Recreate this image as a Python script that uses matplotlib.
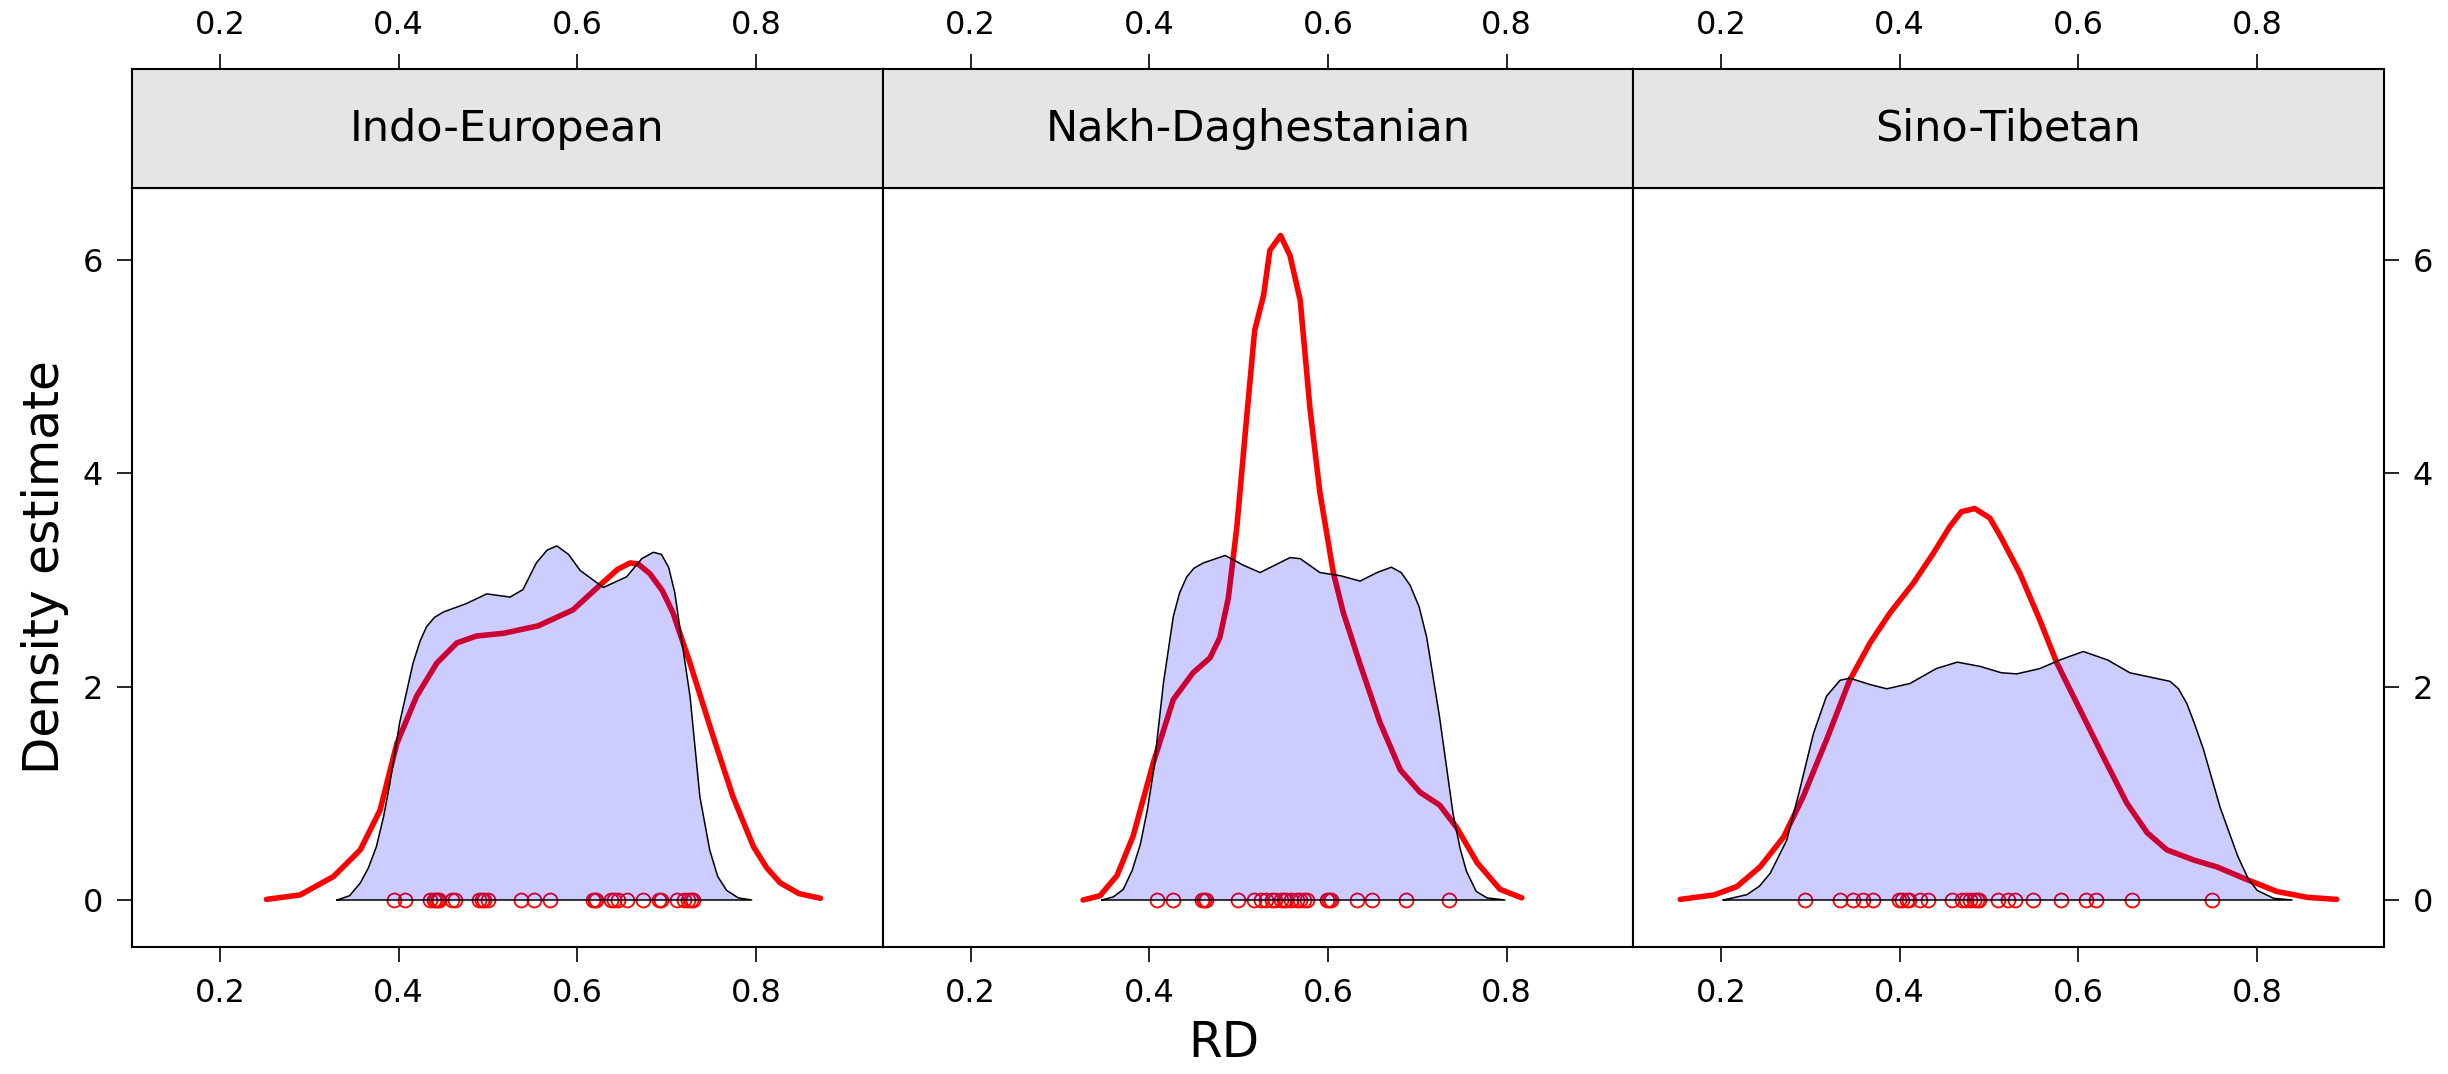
import numpy as np
import matplotlib
matplotlib.use("Agg")
import matplotlib.pyplot as plt

plt.rcParams["font.family"] = ["DejaVu Sans"]

# panel names
families = ["Indo-European", "Nakh-Daghestanian", "Sino-Tibetan"]

# rug points (RD values)
rd_ie = [0.395, 0.4075, 0.4355, 0.4394, 0.4414, 0.4434, 0.4454, 0.4594, 0.4634,
         0.4894, 0.4934, 0.4954, 0.4994, 0.5373, 0.5513, 0.5693, 0.6173, 0.6193,
         0.6213, 0.6373, 0.6413, 0.6453, 0.6553, 0.6733, 0.6912, 0.6932, 0.7112,
         0.7192, 0.7232, 0.7272, 0.7292]
rd_nd = [0.409, 0.427, 0.459, 0.461, 0.463, 0.499, 0.517, 0.525, 0.531, 0.537,
         0.541, 0.547, 0.551, 0.553, 0.559, 0.565, 0.569, 0.573, 0.577, 0.599,
         0.601, 0.603, 0.633, 0.649, 0.687, 0.735]
rd_st = [0.294, 0.333, 0.348, 0.359, 0.370, 0.399, 0.403, 0.408, 0.410, 0.423,
         0.432, 0.459, 0.470, 0.474, 0.479, 0.483, 0.487, 0.489, 0.510, 0.521,
         0.529, 0.549, 0.580, 0.609, 0.620, 0.660, 0.749]

# red density curves (x, density)
red_x_ie = [0.252, 0.2895, 0.327, 0.357, 0.379, 0.398, 0.420, 0.4425, 0.465, 0.487,
            0.517, 0.556, 0.595, 0.625, 0.645, 0.659, 0.668, 0.681, 0.695, 0.707,
            0.726, 0.752, 0.774, 0.797, 0.812, 0.827, 0.848, 0.872]
red_y_ie = [0.006, 0.047, 0.22, 0.47, 0.84, 1.47, 1.91, 2.22, 2.41, 2.475,
            2.50, 2.57, 2.72, 2.95, 3.10, 3.16, 3.15, 3.06, 2.90, 2.69,
            2.22, 1.53, 0.97, 0.50, 0.30, 0.16, 0.06, 0.016]
red_x_nd = [0.326, 0.345, 0.364, 0.382, 0.405, 0.427, 0.449, 0.468, 0.479, 0.4885,
            0.498, 0.509, 0.518, 0.528, 0.535, 0.547, 0.5576, 0.569, 0.580, 0.591,
            0.606, 0.617, 0.636, 0.658, 0.681, 0.703, 0.725, 0.744, 0.767, 0.7926,
            0.817]
red_y_nd = [0.0, 0.04, 0.23, 0.60, 1.30, 1.88, 2.13, 2.27, 2.46, 2.83,
            3.49, 4.52, 5.34, 5.67, 6.09, 6.23, 6.04, 5.62, 4.60, 3.82,
            3.07, 2.70, 2.21, 1.67, 1.22, 1.01, 0.89, 0.68, 0.35, 0.10,
            0.02]
red_x_st = [0.1544, 0.192, 0.2176, 0.2437, 0.270, 0.292, 0.318, 0.344, 0.3668, 0.389,
            0.4152, 0.4376, 0.456, 0.469, 0.484, 0.501, 0.514, 0.5346, 0.557, 0.576,
            0.602, 0.628, 0.654, 0.677, 0.699, 0.729, 0.755, 0.789, 0.822, 0.856,
            0.889]
red_y_st = [0.006, 0.047, 0.125, 0.31, 0.59, 0.97, 1.50, 2.06, 2.41, 2.69,
            2.97, 3.25, 3.50, 3.64, 3.67, 3.58, 3.39, 3.06, 2.62, 2.22,
            1.78, 1.34, 0.91, 0.63, 0.47, 0.375, 0.31, 0.19, 0.08, 0.025,
            0.006]

# shaded reference densities (x, density)
blue_x_ie = [0.331, 0.345, 0.357, 0.366, 0.375, 0.383, 0.390, 0.401, 0.416, 0.424,
             0.431, 0.440, 0.450, 0.476, 0.4985, 0.5246, 0.539, 0.554, 0.566, 0.577,
             0.590, 0.603, 0.629, 0.655, 0.672, 0.685, 0.694, 0.702, 0.709, 0.715,
             0.726, 0.737, 0.748, 0.757, 0.767, 0.780, 0.795]
blue_y_ie = [0.0, 0.04, 0.16, 0.30, 0.50, 0.78, 1.09, 1.66, 2.22, 2.43,
             2.56, 2.65, 2.70, 2.78, 2.87, 2.84, 2.91, 3.16, 3.28, 3.32,
             3.24, 3.09, 2.93, 3.03, 3.20, 3.26, 3.24, 3.12, 2.88, 2.53,
             1.91, 0.97, 0.47, 0.22, 0.09, 0.02, 0.0]
blue_x_nd = [0.347, 0.360, 0.371, 0.381, 0.390, 0.398, 0.405, 0.416, 0.427, 0.434,
             0.442, 0.450, 0.4605, 0.485, 0.505, 0.524, 0.5576, 0.569, 0.591, 0.614,
             0.636, 0.655, 0.671, 0.682, 0.692, 0.702, 0.7106, 0.725, 0.740, 0.748,
             0.755, 0.766, 0.778, 0.798]
blue_y_nd = [0.0, 0.03, 0.10, 0.28, 0.52, 0.85, 1.22, 2.04, 2.66, 2.88,
             3.03, 3.11, 3.16, 3.23, 3.14, 3.07, 3.21, 3.20, 3.07, 3.04,
             2.99, 3.07, 3.12, 3.07, 2.95, 2.75, 2.46, 1.71, 0.81, 0.48,
             0.27, 0.08, 0.02, 0.0]
blue_x_st = [0.2026, 0.229, 0.243, 0.255, 0.2735, 0.288, 0.3034, 0.318, 0.3332, 0.344,
             0.3668, 0.3855, 0.4115, 0.441, 0.4645, 0.4899, 0.514, 0.531, 0.557, 0.579,
             0.6055, 0.6327, 0.6576, 0.680, 0.7025, 0.712, 0.7214, 0.730, 0.740, 0.7585,
             0.7783, 0.790, 0.800, 0.8184, 0.839]
blue_y_st = [0.0, 0.05, 0.13, 0.25, 0.56, 1.03, 1.56, 1.91, 2.06, 2.08,
             2.02, 1.98, 2.03, 2.17, 2.23, 2.19, 2.13, 2.12, 2.17, 2.25,
             2.33, 2.25, 2.13, 2.09, 2.05, 1.98, 1.84, 1.65, 1.41, 0.87,
             0.41, 0.20, 0.09, 0.016, 0.0]

rugs = [rd_ie, rd_nd, rd_st]
reds = [(red_x_ie, red_y_ie), (red_x_nd, red_y_nd), (red_x_st, red_y_st)]
blues = [(blue_x_ie, blue_y_ie), (blue_x_nd, blue_y_nd), (blue_x_st, blue_y_st)]

xticks = [0.2, 0.4, 0.6, 0.8]
yticks = [0, 2, 4, 6]
xlim = (0.1015, 0.9414)
ylim = (-0.4406, 6.675)

W, H = 2448, 1074
fig = plt.figure(figsize=(W / 100, H / 100), dpi=100)

left0, pw = 132, 750.5
top_strip, strip_bot, plot_bot = 69, 188, 947
tick_kw = dict(length=11, width=1.2, labelsize=23, direction="out")

for i, name in enumerate(families):
    x0 = (left0 + i * pw) / W
    ax = fig.add_axes([x0, 1 - plot_bot / H, pw / W, (plot_bot - strip_bot) / H])
    st = fig.add_axes([x0, 1 - strip_bot / H, pw / W, (strip_bot - top_strip) / H])

    # red kde line, rug circles, then translucent blue reference on top
    rx, ry = reds[i]
    ax.plot(rx, ry, color="#ff0000", lw=4, solid_capstyle="round",
            solid_joinstyle="round", zorder=2)
    ax.plot(rugs[i], np.zeros(len(rugs[i])), "o", mfc="none", mec="#ff0000",
            ms=10, mew=1.3, zorder=3)
    bx, by = blues[i]
    ax.fill(bx, by, facecolor="blue", alpha=0.2, edgecolor="none", zorder=4)
    ax.plot(bx + [bx[0]], by + [by[0]], color="black", lw=1.1, zorder=5)

    ax.set_xlim(xlim)
    ax.set_ylim(ylim)
    ax.set_xticks(xticks)
    ax.set_xticklabels([str(t) for t in xticks])
    ax.set_yticks(yticks)
    ax.tick_params(axis="x", pad=11, **tick_kw)
    ax.tick_params(axis="y", pad=10, **tick_kw)
    if i == 0:
        ax.yaxis.set_ticks_position("left")
    elif i == 2:
        ax.yaxis.set_ticks_position("right")
    else:
        ax.tick_params(axis="y", left=False, right=False, labelleft=False)
    for s in ax.spines.values():
        s.set_linewidth(1.5)

    st.set_facecolor("#e5e5e5")
    st.set_xlim(xlim)
    st.set_ylim(0, 1)
    st.set_yticks([])
    st.set_xticks(xticks)
    st.set_xticklabels([str(t) for t in xticks])
    st.xaxis.set_ticks_position("top")
    st.tick_params(axis="x", pad=9, **tick_kw)
    for s in st.spines.values():
        s.set_linewidth(1.5)
    st.text(0.5, 0.5, name, transform=st.transAxes, ha="center", va="center",
            fontsize=31)

fig.text(0.5, 1 - 1043 / H, "RD", ha="center", va="center", fontsize=35)
fig.text(45 / W, 1 - 567 / H, "Density estimate", ha="center", va="center",
         rotation=90, fontsize=35)

fig.savefig("out.png", dpi=100, facecolor="white")
